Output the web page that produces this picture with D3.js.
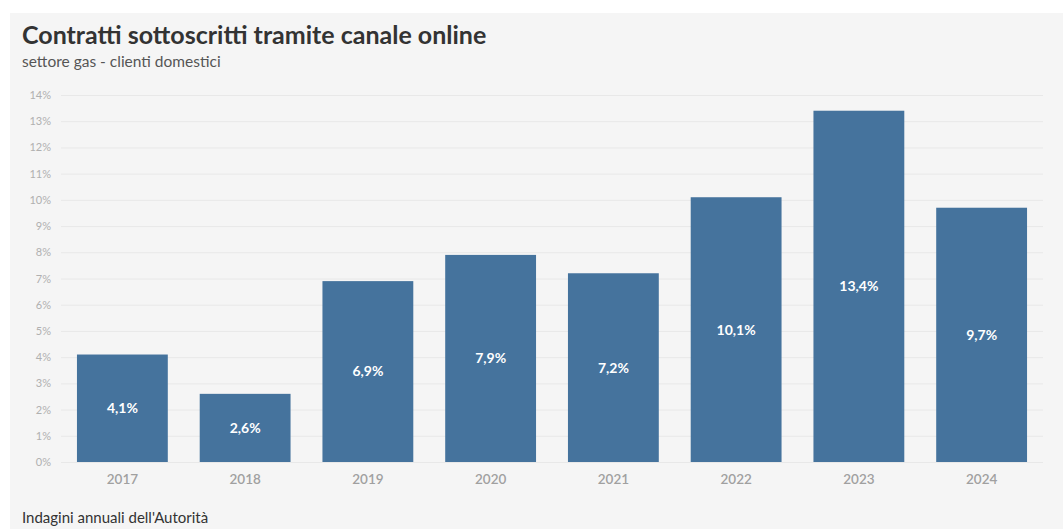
<!DOCTYPE html>
<html>
<head>
<meta charset="utf-8">
<script src="https://cdn.jsdelivr.net/npm/d3@7"></script>
<style>
  html, body { margin: 0; padding: 0; background: #ffffff; }
  svg { display: block; }
  text { font-family: Lato, "Source Sans Pro", "Noto Sans", sans-serif; }
</style>
</head>
<body>
<svg id="chart" width="1063" height="529"></svg>
<script>
// Online-channel share of signed contracts, gas sector, household customers
const years = ["2017", "2018", "2019", "2020", "2021", "2022", "2023", "2024"];
const shares = [4.1, 2.6, 6.9, 7.9, 7.2, 10.1, 13.4, 9.7];
const yTicks = [0, 1, 2, 3, 4, 5, 6, 7, 8, 9, 10, 11, 12, 13, 14];

const title = "Contratti sottoscritti tramite canale online";
const subtitle = "settore gas - clienti domestici";
const source = "Indagini annuali dell'Autorità";

const W = 1063, H = 529;
const svg = d3.select("#chart");

// panel background
svg.append("rect")
  .attr("x", 10).attr("y", 13)
  .attr("width", W - 10).attr("height", H - 13)
  .attr("fill", "#f5f5f5");

svg.append("text")
  .attr("x", 22).attr("y", 44)
  .attr("font-size", 25).attr("font-weight", 700)
  .attr("fill", "#333333")
  .text(title);

svg.append("text")
  .attr("x", 22).attr("y", 67)
  .attr("font-size", 15.5)
  .attr("fill", "#555555")
  .text(subtitle);

const plot = { left: 61, right: 1043, top: 95, bottom: 462 };

const x = d3.scaleBand()
  .domain(years)
  .range([plot.left, plot.right])
  .paddingInner(0.26)
  .paddingOuter(0.13);

const y = d3.scaleLinear()
  .domain([0, 14])
  .range([plot.bottom, plot.top]);

// gridlines and y-axis labels
const yAxis = d3.axisLeft(y)
  .tickValues(yTicks)
  .tickSize(-(plot.right - plot.left))
  .tickPadding(10)
  .tickFormat(d => d + "%");

const gy = svg.append("g")
  .attr("transform", `translate(${plot.left},0)`)
  .call(yAxis);
gy.select(".domain").remove();
gy.selectAll(".tick line").attr("stroke", "#e8e8e8").attr("stroke-width", 1);
gy.selectAll(".tick text")
  .attr("font-size", 11)
  .attr("fill", "#b0b0b0")
  .attr("font-family", "Lato, sans-serif");

// bars
svg.append("g").selectAll("rect")
  .data(years)
  .join("rect")
  .attr("x", d => x(d))
  .attr("y", (d, i) => y(shares[i]))
  .attr("width", x.bandwidth())
  .attr("height", (d, i) => y(0) - y(shares[i]))
  .attr("fill", "#45739d");

// value labels centred in each bar
svg.append("g").selectAll("text")
  .data(years)
  .join("text")
  .attr("x", d => x(d) + x.bandwidth() / 2)
  .attr("y", (d, i) => (y(shares[i]) + y(0)) / 2)
  .attr("dy", "0.35em")
  .attr("text-anchor", "middle")
  .attr("font-size", 14)
  .attr("font-weight", 700)
  .attr("fill", "#ffffff")
  .text((d, i) => shares[i].toFixed(1).replace(".", ",") + "%");

// x-axis year labels
const xAxis = d3.axisBottom(x).tickSize(0).tickPadding(12);
const gx = svg.append("g")
  .attr("transform", `translate(0,${plot.bottom})`)
  .call(xAxis);
gx.select(".domain").remove();
gx.selectAll(".tick text")
  .attr("font-size", 13.5)
  .attr("font-weight", 600)
  .attr("fill", "#a0a0a0")
  .attr("font-family", "Lato, sans-serif");

svg.append("text")
  .attr("x", 22).attr("y", 523)
  .attr("font-size", 15)
  .attr("fill", "#333333")
  .text(source);
</script>
</body>
</html>
